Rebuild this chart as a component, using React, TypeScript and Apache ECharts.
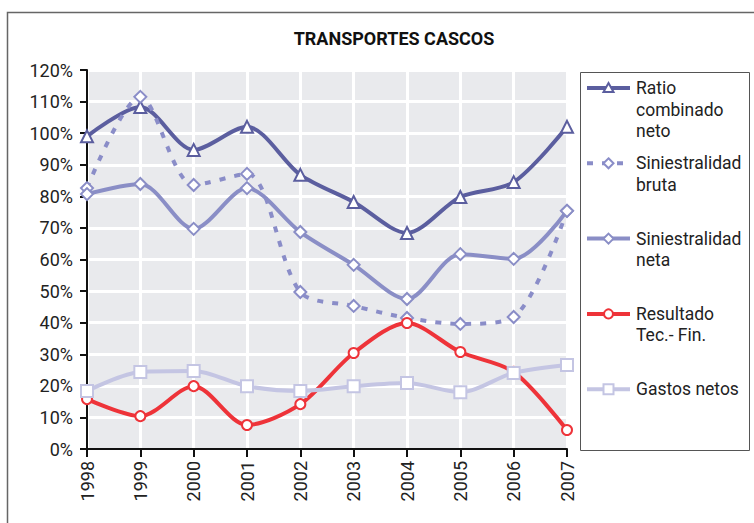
import React, { useEffect, useRef } from "react";
import * as echarts from "echarts";

const years = ["1998", "1999", "2000", "2001", "2002", "2003", "2004", "2005", "2006", "2007"];

const ratioCombinadoNeto = [99, 108.3, 94.7, 102, 86.8, 78.2, 68.4, 79.8, 84.5, 102];
const siniestralidadBruta = [82.6, 111.5, 83.6, 87.1, 49.7, 45.3, 41.5, 39.6, 41.8, 75.4];
const siniestralidadNeta = [80.7, 83.9, 69.7, 82.6, 68.7, 58.3, 47.5, 61.7, 60.2, 75.4];
const resultadoTecFin = [15.8, 10.4, 19.9, 7.6, 14.2, 30.4, 39.9, 30.7, 24.4, 6];
const gastosNetos = [18.4, 24.4, 24.7, 19.9, 18.4, 19.9, 20.9, 18, 24.1, 26.6];

const FONT = "Roboto, 'DejaVu Sans', sans-serif";

type SeriesDef = {
  name: string;
  lines: string[];
  data: number[];
  color: string;
  symbol: string;
  dashed: boolean;
};

const seriesDefs: SeriesDef[] = [
  { name: "Ratio combinado neto", lines: ["Ratio", "combinado", "neto"], data: ratioCombinadoNeto, color: "#5b5e9f", symbol: "triangle", dashed: false },
  { name: "Siniestralidad bruta", lines: ["Siniestralidad", "bruta"], data: siniestralidadBruta, color: "#8a8dc8", symbol: "diamond", dashed: true },
  { name: "Siniestralidad neta", lines: ["Siniestralidad", "neta"], data: siniestralidadNeta, color: "#8a8ec6", symbol: "diamond", dashed: false },
  { name: "Resultado Tec.- Fin.", lines: ["Resultado", "Tec.- Fin."], data: resultadoTecFin, color: "#ee3339", symbol: "circle", dashed: false },
  { name: "Gastos netos", lines: ["Gastos netos"], data: gastosNetos, color: "#c4c5e3", symbol: "rect", dashed: false },
];

function legendSymbol(kind: string, cx: number, cy: number, color: string): any {
  const style = { fill: "#fff", stroke: color, lineWidth: 2 };
  if (kind === "triangle") {
    return { type: "polygon", shape: { points: [[cx, cy - 5], [cx + 5, cy + 4], [cx - 5, cy + 4]] }, style };
  }
  if (kind === "diamond") {
    return { type: "polygon", shape: { points: [[cx, cy - 5], [cx + 5, cy], [cx, cy + 5], [cx - 5, cy]] }, style };
  }
  if (kind === "circle") {
    return { type: "circle", shape: { cx, cy, r: 4.5 }, style };
  }
  return { type: "rect", shape: { x: cx - 5, y: cy - 5, width: 10, height: 10 }, style };
}

export default function App() {
  const ref = useRef<HTMLDivElement>(null);

  useEffect(() => {
    if (!ref.current) return;
    const chart = echarts.init(ref.current, undefined, { renderer: "svg" });

    const legendGraphics: any[] = [
      {
        type: "rect",
        shape: { x: 580.5, y: 72.5, width: 169, height: 378 },
        style: { fill: "#fff", stroke: "#555", lineWidth: 1 },
        z: 10,
      },
    ];
    seriesDefs.forEach((s, i) => {
      const cy = 88 + i * 75.3;
      legendGraphics.push({
        type: "line",
        shape: { x1: 587, y1: cy, x2: 630, y2: cy },
        style: { stroke: s.color, lineWidth: 4, lineDash: s.dashed ? [6, 9] : null },
        z: 11,
      });
      legendGraphics.push({ ...legendSymbol(s.symbol, 608.5, cy, s.color), z: 12 });
      s.lines.forEach((t, k) => {
        legendGraphics.push({
          type: "text",
          x: 636,
          y: cy + k * 21.5,
          style: { text: t, fill: "#222", font: `17.5px ${FONT}`, textVerticalAlign: "middle" },
          z: 12,
        });
      });
    });

    chart.setOption({
      animation: false,
      backgroundColor: "#fff",
      title: {
        text: "TRANSPORTES CASCOS",
        left: 389,
        top: 24,
        textAlign: "center",
        textStyle: { fontFamily: FONT, fontWeight: "bold", fontSize: 18, color: "#111" },
      },
      grid: {
        left: 87,
        top: 70,
        width: 480,
        height: 379,
        show: true,
        backgroundColor: "#e9eaed",
        borderColor: "#999",
        borderWidth: 1,
      },
      xAxis: {
        type: "category",
        data: years,
        boundaryGap: false,
        axisLine: { lineStyle: { color: "#111", width: 2 } },
        axisTick: { show: true, length: 8, lineStyle: { color: "#111", width: 2 } },
        axisLabel: { rotate: 90, margin: 12, color: "#222", fontFamily: FONT, fontSize: 18 },
        splitLine: { show: true, lineStyle: { color: "#fff", width: 3 } },
      },
      yAxis: {
        type: "value",
        min: 0,
        max: 120,
        interval: 10,
        axisLine: { show: true, lineStyle: { color: "#111", width: 2 } },
        axisTick: { show: true, length: 7, lineStyle: { color: "#111", width: 2 } },
        axisLabel: { formatter: "{value}%", margin: 14, color: "#222", fontFamily: FONT, fontSize: 18 },
        splitLine: { show: true, lineStyle: { color: "#fff", width: 3 } },
      },
      series: seriesDefs.map((s) => ({
        name: s.name,
        type: "line",
        data: s.data,
        smooth: 0.3,
        symbol: s.symbol,
        symbolSize: s.symbol === "circle" ? 10 : 12,
        itemStyle: { color: "#fff", borderColor: s.color, borderWidth: 2 },
        lineStyle: { color: s.color, width: 4, type: s.dashed ? [6, 9] : "solid" },
        z: 3,
      })),
      graphic: [
        {
          type: "rect",
          shape: { x: 7.5, y: 12.5, width: 760, height: 520 },
          style: { fill: "none", stroke: "#666", lineWidth: 1.5 },
          z: 1,
        },
        ...legendGraphics,
      ],
    });

    return () => chart.dispose();
  }, []);

  return (
    <div
      ref={ref}
      style={{ position: "absolute", left: 0, top: 0, width: 754, height: 523 }}
    />
  );
}
